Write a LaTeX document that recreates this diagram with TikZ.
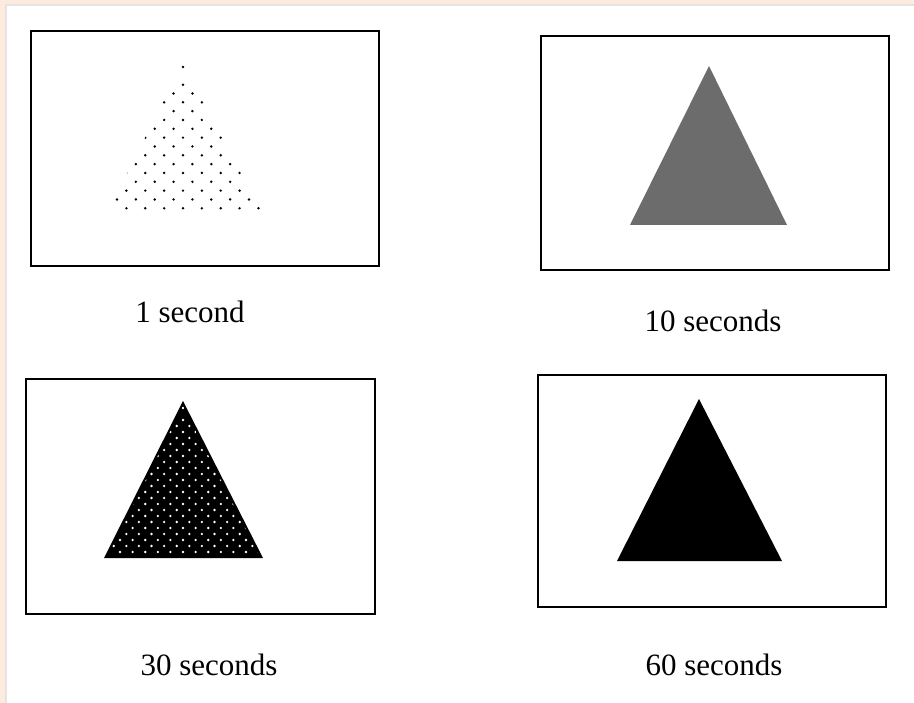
\documentclass[tikz,border=0pt]{standalone}
\usepackage{fontspec}
\setmainfont{Liberation Serif}
\definecolor{peach}{RGB}{253,235,222}
\definecolor{edgegray}{RGB}{228,228,230}
\definecolor{midgray}{RGB}{108,108,108}
\begin{document}
\begin{tikzpicture}[x=1pt,y=-1pt,
  frame/.style={draw=black,line width=2pt,inner sep=0pt,fill=white},
  caption/.style={anchor=base,inner sep=0pt,font=\fontsize{31}{31}\selectfont}]
\useasboundingbox (0,0) rectangle (914,703);
\fill[white] (0,0) rectangle (914,703);
% page edge bands
\fill[peach] (0,0) rectangle (914,4.5);
\fill[peach] (0,0) rectangle (5,703);
\fill[edgegray] (5,4.5) rectangle (914,6);
\fill[edgegray] (5,4.5) rectangle (7,703);
% frames
\node[frame,minimum width=348pt,minimum height=235pt] (b1) at (205,148.5) {};
\node[frame,minimum width=348pt,minimum height=234pt] (b2) at (715,153) {};
\node[frame,minimum width=349pt,minimum height=235pt] (b3) at (200.5,496.5) {};
\node[frame,minimum width=348pt,minimum height=232pt] (b4) at (712,491) {};
% captions
\node[caption] (c1) at (190,323) {1 second};
\node[caption] (c2) at (713,332) {10 seconds};
\node[caption] (c3) at (209,675) {30 seconds};
\node[caption] (c4) at (714,675) {60 seconds};
% triangle 1: sparse dots
\begin{scope}
  \clip (183,61) -- (108,212) -- (263,212) -- cycle;
  \foreach \j in {0,...,16} {
    \pgfmathtruncatemacro\p{mod(\j,2)}
    \foreach \i in {-5,...,5} {
      \fill[black] ({183+(2*\i+\p)*9.43}, {67+\j*8.83}) circle[radius=1.35pt];
    }
  }
\end{scope}
% triangle 2: grey dither
\fill[midgray] (709,66) -- (630,225) -- (787,225) -- cycle;
% triangle 3: black with white dots
\fill[black] (183,401) -- (104,558) -- (263,558) -- cycle;
\begin{scope}
  \clip (183,406) -- (108,555) -- (259,555) -- cycle;
  \foreach \j in {0,...,25} {
    \pgfmathtruncatemacro\p{mod(\j,2)}
    \foreach \i in {-7,...,7} {
      \fill[white] ({183+(2*\i+\p)*6.3}, {408+\j*6.0}) circle[radius=1.3pt];
    }
  }
\end{scope}
% triangle 4: solid black
\fill[black] (699,399) -- (617,561) -- (782,561) -- cycle;
\end{tikzpicture}
\end{document}
